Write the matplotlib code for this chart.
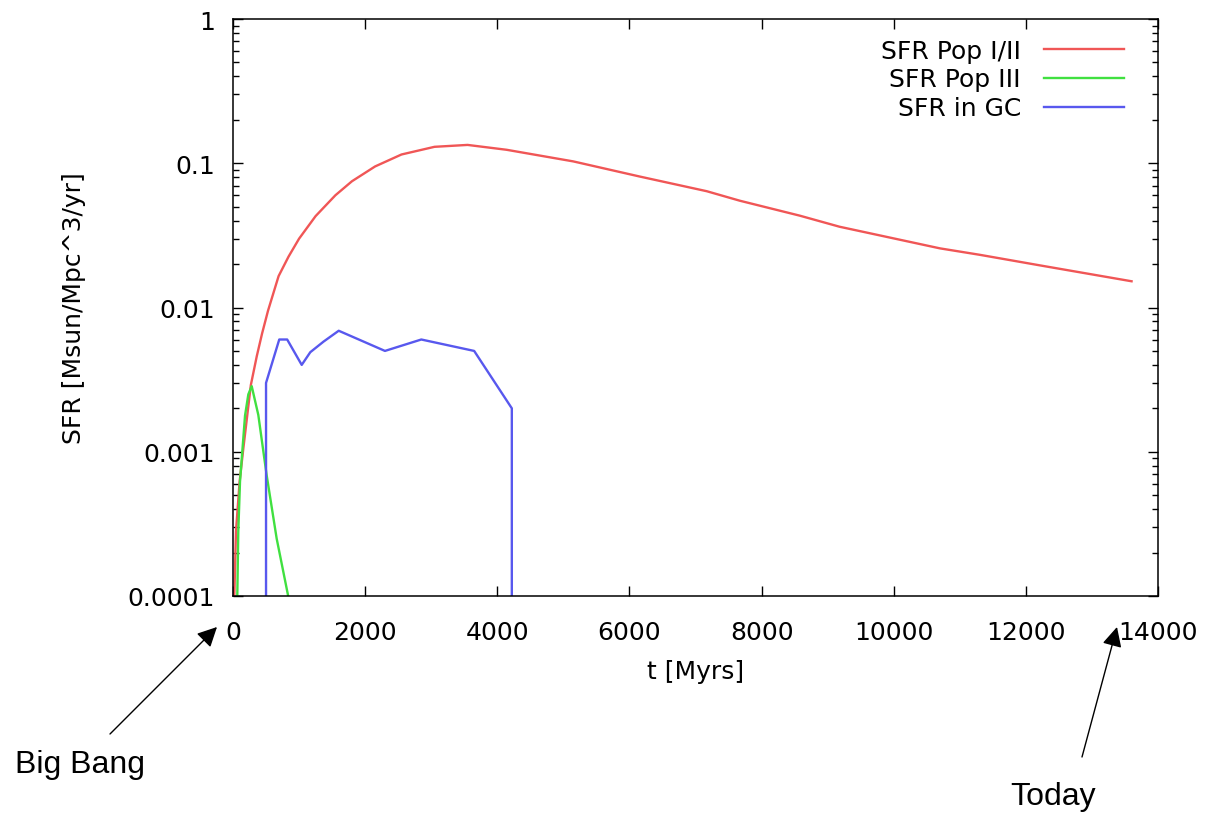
import matplotlib
matplotlib.use("Agg")
import matplotlib.pyplot as plt
from matplotlib.ticker import LogLocator, NullFormatter, FixedLocator

# SFR Pop I/II
red_t = [20, 45, 100, 156, 270, 360, 440, 530, 690, 840, 1000, 1250, 1550, 1800, 2150,
         2550, 3050, 3550, 4140, 5150, 6150, 7170, 7670, 8580, 9180, 10700, 11300, 12210, 13600]
red_sfr = [1e-4, 2.8e-4, 6.2e-4, 1.05e-3, 2.9e-3, 4.6e-3, 6.6e-3, 9.5e-3, 1.65e-2, 2.25e-2,
           3.0e-2, 4.3e-2, 6.0e-2, 7.5e-2, 9.5e-2, 0.115, 0.13, 0.134, 0.124, 0.103, 0.081,
           0.064, 0.055, 0.0433, 0.0363, 0.0257, 0.0232, 0.0196, 0.0152]

# SFR Pop III
green_t = [65, 80, 106, 182, 232, 283, 383, 509, 661, 835]
green_sfr = [1e-4, 2.8e-4, 6.2e-4, 1.78e-3, 2.5e-3, 2.85e-3, 1.8e-3, 6.9e-4, 2.5e-4, 1e-4]

# SFR in GC
blue_t = [500, 500, 700, 820, 1040, 1170, 1370, 1600, 2300, 2850, 3650, 4220, 4220]
blue_sfr = [1e-6, 0.003, 0.006, 0.006, 0.004, 0.0049, 0.0058, 0.0069, 0.005, 0.006, 0.005, 0.002, 1e-6]

x_ticks = [0, 2000, 4000, 6000, 8000, 10000, 12000, 14000]
y_ticks = [1e-4, 1e-3, 1e-2, 1e-1, 1]
y_labels = ["0.0001", "0.001", "0.01", "0.1", "1"]

plt.rcParams['font.family'] = ['DejaVu Sans']
fs = 18

fig = plt.figure(figsize=(12.13, 8.2), dpi=100)
ax = fig.add_axes([233 / 1213, 1 - 597 / 820, (1158 - 233) / 1213, (597 - 20) / 820])

ax.plot(red_t, red_sfr, color="#f05656", lw=1.7, label="SFR Pop I/II")
ax.plot(green_t, green_sfr, color="#40e040", lw=1.7, label="SFR Pop III")
ax.plot(blue_t, blue_sfr, color="#5858ee", lw=1.7, label="SFR in GC")

ax.set_yscale("log")
ax.set_xlim(0, 14000)
ax.set_ylim(1e-4, 1)

ax.xaxis.set_major_locator(FixedLocator(x_ticks))
ax.set_xticklabels([str(v) for v in x_ticks])
ax.yaxis.set_major_locator(FixedLocator(y_ticks))
ax.set_yticklabels(y_labels)
ax.yaxis.set_minor_locator(LogLocator(base=10, subs=range(2, 10)))
ax.yaxis.set_minor_formatter(NullFormatter())

ax.tick_params(which="major", direction="in", length=7, width=1, top=True, right=True,
               labelsize=fs, colors="black")
ax.tick_params(axis="x", which="major", pad=17)
ax.tick_params(axis="y", which="major", pad=13)
ax.tick_params(which="minor", direction="in", length=4, width=1, right=True)
for s in ax.spines.values():
    s.set_linewidth(1.1)

ax.set_xlabel("t [Myrs]", fontsize=fs, labelpad=11)
ax.set_ylabel("SFR [Msun/Mpc^3/yr]", fontsize=fs, labelpad=30)

leg = ax.legend(loc="upper right", bbox_to_anchor=(1 - 12 / 925, 1 + 3 / 577),
                frameon=False, fontsize=fs, markerfirst=False,
                handlelength=3.2, labelspacing=0.2, borderaxespad=0.5, handletextpad=0.9)

W, H = 1213, 820
fig.text(15 / W, 1 - 765 / H, "Big Bang", fontsize=23, family="Liberation Sans", va="center", ha="left")
fig.text(1053 / W, 1 - 797 / H, "Today", fontsize=23, family="Liberation Sans", va="center", ha="center")

arrow = dict(arrowstyle="-|>", mutation_scale=30, lw=1.0, color="black", shrinkA=0, shrinkB=0)
ax.annotate("", xy=(217 / W, 1 - 628 / H), xytext=(110 / W, 1 - 735 / H),
            xycoords="figure fraction", textcoords="figure fraction", arrowprops=arrow,
            annotation_clip=False)
ax.annotate("", xy=(1117 / W, 1 - 628 / H), xytext=(1082 / W, 1 - 758 / H),
            xycoords="figure fraction", textcoords="figure fraction", arrowprops=arrow,
            annotation_clip=False)

fig.savefig("out.png", dpi=100)
